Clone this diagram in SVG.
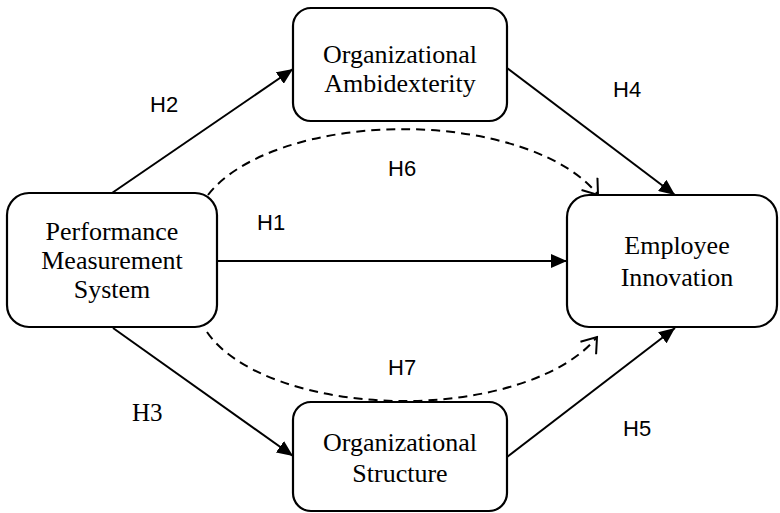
<svg xmlns="http://www.w3.org/2000/svg" width="780" height="513" viewBox="0 0 780 513">
<style>
.box{fill:#fff;stroke:#000;stroke-width:2.2}
.t{font-family:"Liberation Serif","Times New Roman",serif;font-size:26px;fill:#000;text-anchor:middle}
.h{font-family:"Liberation Sans",Arial,sans-serif;font-size:22px;fill:#000}
.hs{font-family:"Liberation Serif","Times New Roman",serif;font-size:25px;fill:#000}
.ln{fill:none;stroke:#000;stroke-width:2}
.dash{fill:none;stroke:#000;stroke-width:2;stroke-dasharray:9,6}
</style>
<defs>
<marker id="fa" markerUnits="userSpaceOnUse" markerWidth="16" markerHeight="14" refX="16" refY="7" orient="auto">
<path d="M0,0 L16,7 L0,14 z" fill="#000"/>
</marker>
<marker id="oa" markerUnits="userSpaceOnUse" markerWidth="18" markerHeight="22" refX="16" refY="11" orient="auto">
<path d="M2,1 L16,11 L2,21" fill="none" stroke="#000" stroke-width="2"/>
</marker>
</defs>
<g id="connectors">
<line class="ln" x1="217" y1="261" x2="567" y2="261" marker-end="url(#fa)"/>
<line class="ln" x1="112" y1="193" x2="293" y2="69" marker-end="url(#fa)"/>
<line class="ln" x1="113" y1="328" x2="293" y2="456" marker-end="url(#fa)"/>
<line class="ln" x1="507" y1="68" x2="675" y2="195" marker-end="url(#fa)"/>
<line class="ln" x1="507" y1="457" x2="675" y2="328" marker-end="url(#fa)"/>
<path class="dash" d="M208,195 A208,101 0 0 1 598,195" marker-end="url(#oa)"/>
<path class="dash" d="M207,332 A207,100 0 0 0 597,337" marker-end="url(#oa)"/>
</g>
<g id="pms">
<rect class="box" x="7" y="193" width="210" height="134" rx="22"/>
<text class="t" x="112" y="240">Performance</text>
<text class="t" x="112" y="269">Measurement</text>
<text class="t" x="112" y="298">System</text>
</g>
<g id="oa-node">
<rect class="box" x="293" y="8" width="214" height="113" rx="18"/>
<text class="t" x="400" y="63">Organizational</text>
<text class="t" x="400" y="92">Ambidexterity</text>
</g>
<g id="os">
<rect class="box" x="293" y="402" width="214" height="109" rx="18"/>
<text class="t" x="400" y="451">Organizational</text>
<text class="t" x="400" y="482">Structure</text>
</g>
<g id="ei">
<rect class="box" x="567" y="195" width="210" height="132" rx="22"/>
<text class="t" x="677" y="254">Employee</text>
<text class="t" x="677" y="286">Innovation</text>
</g>
<g id="labels">
<text class="h" x="257" y="230">H1</text>
<text class="h" x="150" y="112">H2</text>
<text class="hs" x="132" y="421">H3</text>
<text class="h" x="613" y="97">H4</text>
<text class="h" x="623" y="436">H5</text>
<text class="h" x="388" y="176">H6</text>
<text class="h" x="388" y="375">H7</text>
</g>
</svg>
